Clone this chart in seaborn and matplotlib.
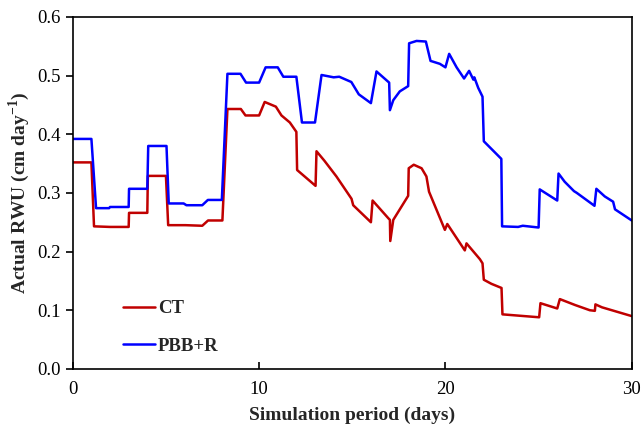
import numpy as np
import pandas as pd
import seaborn as sns
import matplotlib.pyplot as plt

# data
ct_days = [0, 1.0, 1.14, 2.0, 3.0, 3.02, 4.0, 4.03, 5.0, 5.12, 6.05, 6.95, 7.26, 8.03,
           8.3, 9.02, 9.27, 10.0, 10.3, 10.9, 11.2, 11.65, 12.0, 12.04, 13.03, 13.08,
           13.5, 14.15, 14.96, 15.05, 16.0, 16.09, 16.93, 17.02, 17.04, 17.2, 18.0,
           18.03, 18.3, 18.72, 18.98, 19.12, 19.97, 20.1, 21.04, 21.13, 21.85, 21.99,
           22.06, 22.47, 23.01, 23.06, 25.03, 25.1, 26.0, 26.14, 26.95, 27.75, 28.02,
           28.05, 28.4, 30]
ct_rwu = [0.352, 0.352, 0.243, 0.242, 0.242, 0.266, 0.266, 0.329, 0.329, 0.245, 0.245,
          0.244, 0.253, 0.253, 0.443, 0.443, 0.432, 0.432, 0.455, 0.447, 0.432, 0.420,
          0.404, 0.339, 0.312, 0.371, 0.355, 0.328, 0.290, 0.279, 0.250, 0.287, 0.257,
          0.254, 0.218, 0.254, 0.295, 0.342, 0.348, 0.342, 0.328, 0.302, 0.237, 0.247,
          0.202, 0.214, 0.187, 0.180, 0.152, 0.145, 0.138, 0.093, 0.088, 0.112, 0.103,
          0.119, 0.109, 0.100, 0.099, 0.110, 0.105, 0.090]

pbb_days = [0, 1.0, 1.25, 1.95, 2.0, 3.0, 3.02, 4.0, 4.05, 5.03, 5.15, 5.95, 6.1, 6.95,
            7.25, 8.0, 8.3, 9.0, 9.3, 10.0, 10.35, 11.0, 11.3, 12.0, 12.3, 13.0, 13.35,
            14.0, 14.3, 14.95, 15.35, 16.0, 16.3, 16.98, 17.02, 17.2, 17.55, 18.0, 18.05,
            18.45, 18.95, 19.2, 19.7, 20.0, 20.2, 20.6, 21.0, 21.27, 21.5, 21.55, 21.76,
            21.99, 22.06, 23.0, 23.04, 23.9, 24.15, 25.0, 25.06, 26.0, 26.07, 26.4, 26.9,
            27.05, 28.0, 28.1, 28.55, 29.0, 29.1, 30]
pbb_rwu = [0.392, 0.392, 0.274, 0.274, 0.276, 0.276, 0.307, 0.307, 0.380, 0.380, 0.282,
           0.282, 0.279, 0.279, 0.288, 0.288, 0.503, 0.503, 0.488, 0.488, 0.514, 0.514,
           0.498, 0.498, 0.420, 0.420, 0.501, 0.497, 0.498, 0.489, 0.468, 0.453, 0.507,
           0.488, 0.441, 0.458, 0.473, 0.482, 0.555, 0.559, 0.558, 0.525, 0.520, 0.514,
           0.537, 0.514, 0.495, 0.508, 0.493, 0.497, 0.479, 0.464, 0.388, 0.358, 0.243,
           0.242, 0.244, 0.241, 0.306, 0.287, 0.333, 0.319, 0.303, 0.300, 0.278, 0.307,
           0.294, 0.285, 0.272, 0.253]

df = pd.concat([
    pd.DataFrame({'day': ct_days, 'rwu': ct_rwu, 'treatment': 'CT'}),
    pd.DataFrame({'day': pbb_days, 'rwu': pbb_rwu, 'treatment': 'PBB+R'}),
])

sns.set_theme(style='ticks')
plt.rcParams['font.family'] = ['Liberation Serif', 'DejaVu Serif']
plt.rcParams['mathtext.fontset'] = 'custom'
plt.rcParams['mathtext.rm'] = 'Liberation Serif'
plt.rcParams['mathtext.bf'] = 'Liberation Serif:bold'

fig = plt.figure(figsize=(6.44, 4.33), dpi=100)
ax = fig.add_axes([0.113, 0.148, 0.868, 0.813])

sns.lineplot(data=df, x='day', y='rwu', hue='treatment', sort=False, estimator=None,
             palette={'CT': '#C00000', 'PBB+R': '#0000FF'}, linewidth=1.8, ax=ax)

ax.set_xlim(0, 30)
ax.set_ylim(0, 0.6)
ax.set_xticks([0, 10, 20, 30])
ax.set_yticks(np.arange(0, 0.61, 0.1))
ax.yaxis.set_major_formatter(plt.FormatStrFormatter('%.1f'))
ax.tick_params(axis='y', direction='out', length=5, width=1.2, labelsize=13.5, colors='black')
ax.tick_params(axis='x', direction='in', length=5, width=1.2, labelsize=13.5, pad=9, colors='black')
for s in ax.spines.values():
    s.set_visible(True)
    s.set_color('black')
    s.set_linewidth(1.2)

ax.set_xlabel('Simulation period (days)', fontsize=14, fontweight='bold', labelpad=6)
ax.set_ylabel(r'Actual RWU (cm day$^{\mathbf{-1}}$)', fontsize=14, fontweight='bold')

leg = ax.legend(loc='lower left', bbox_to_anchor=(0.06, -0.008), frameon=False,
                handlelength=1.7, handletextpad=0.15, labelspacing=1.1,
                prop={'weight': 'bold', 'size': 13.5})

fig.savefig('out.png', dpi=100)
